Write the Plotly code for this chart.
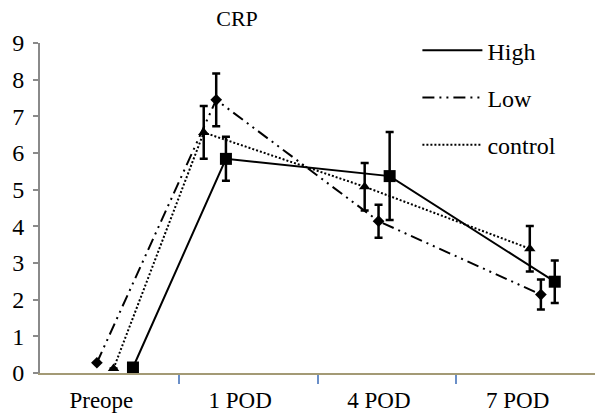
import plotly.graph_objects as go

# ---- data ----
categories = ["Preope", "1 POD", "4 POD", "7 POD"]
series_names = ["High", "Low", "control"]

high_vals = [0.15, 5.84, 5.37, 2.49]
high_err = [0, 0.60, 1.20, 0.58]
high_shift = [0.17, -0.16, 0.02, 0.21]   # horizontal jitter in category units

low_vals = [0.28, 7.45, 4.14, 2.14]
low_err = [0, 0.72, 0.45, 0.41]
low_shift = [-0.09, -0.23, -0.06, 0.11]

control_vals = [0.12, 6.56, 5.08, 3.39]
control_err = [0, 0.72, 0.65, 0.62]
control_shift = [0.03, -0.32, -0.16, 0.03]

y_ticks = list(range(0, 10))

FONT = "'Liberation Serif', 'Times New Roman', Times, serif"

def xs(shift):
    return [i + s for i, s in enumerate(shift)]

styles = {
    "High": dict(dash="solid", symbol="square", size=12),
    "Low": dict(dash="12px,5px,2px,5px,2px,5px", symbol="diamond", size=9),
    "control": dict(dash="2px,2px", symbol="triangle-up", size=10),
}
data = {
    "High": (high_vals, high_err, high_shift),
    "Low": (low_vals, low_err, low_shift),
    "control": (control_vals, control_err, control_shift),
}

fig = go.Figure()
for name in series_names:
    vals, err, shift = data[name]
    st = styles[name]
    fig.add_trace(go.Scatter(
        x=xs(shift), y=vals, mode="lines+markers", showlegend=False,
        line=dict(color="black", width=2, dash=st["dash"]),
        marker=dict(color="black", symbol=st["symbol"], size=st["size"]),
        error_y=dict(type="data", array=err, visible=True, color="black",
                     thickness=2.5, width=4),
    ))
for i, name in enumerate(series_names):
    st = styles[name]
    fig.add_trace(go.Scatter(
        x=[None], y=[None], mode="lines", name=name, legendgroup=name,
        line=dict(color="black", width=2, dash=st["dash"]),
    ))

fig.update_layout(
    width=595, height=413,
    margin=dict(l=40, r=0, t=43, b=40),
    plot_bgcolor="white", paper_bgcolor="white",
    font=dict(family=FONT, size=21, color="black"),
    title=dict(text="CRP", x=(237 - 40) / 555, xref="paper", xanchor="center",
               y=1 - 18 / 413, yref="container", yanchor="middle",
               font=dict(family=FONT, size=22, color="black")),
    legend=dict(x=0.68, y=1.045, xanchor="left", yanchor="top",
                font=dict(family=FONT, size=24, color="black"),
                bgcolor="rgba(0,0,0,0)", itemwidth=60, tracegroupgap=13),
    showlegend=True,
)
fig.update_xaxes(
    range=[-0.5, 3.5], tickmode="array", tickvals=list(range(len(categories))),
    ticktext=categories, ticks="", showgrid=False, zeroline=False,
    showline=True, linecolor="#a39a75", linewidth=2, ticklabelshift=-8,
    ticklabelstandoff=5,
    minor=dict(tickmode="array", tickvals=[0.5, 1.5, 2.5], ticks="outside",
               ticklen=9, tickcolor="#6a8fc8", tickwidth=1.5, showgrid=False),
    tickfont=dict(family=FONT, size=23, color="black"),
)
fig.update_yaxes(
    range=[0, 9], tickmode="array", tickvals=y_ticks, ticks="outside",
    ticklen=5, tickcolor="#8a8a8a", tickwidth=2, showgrid=False, zeroline=False,
    showline=True, linecolor="#8a8a8a", linewidth=2, ticklabelstandoff=4,
    tickfont=dict(family=FONT, size=24, color="black"),
)

fig.write_html("out.html")
